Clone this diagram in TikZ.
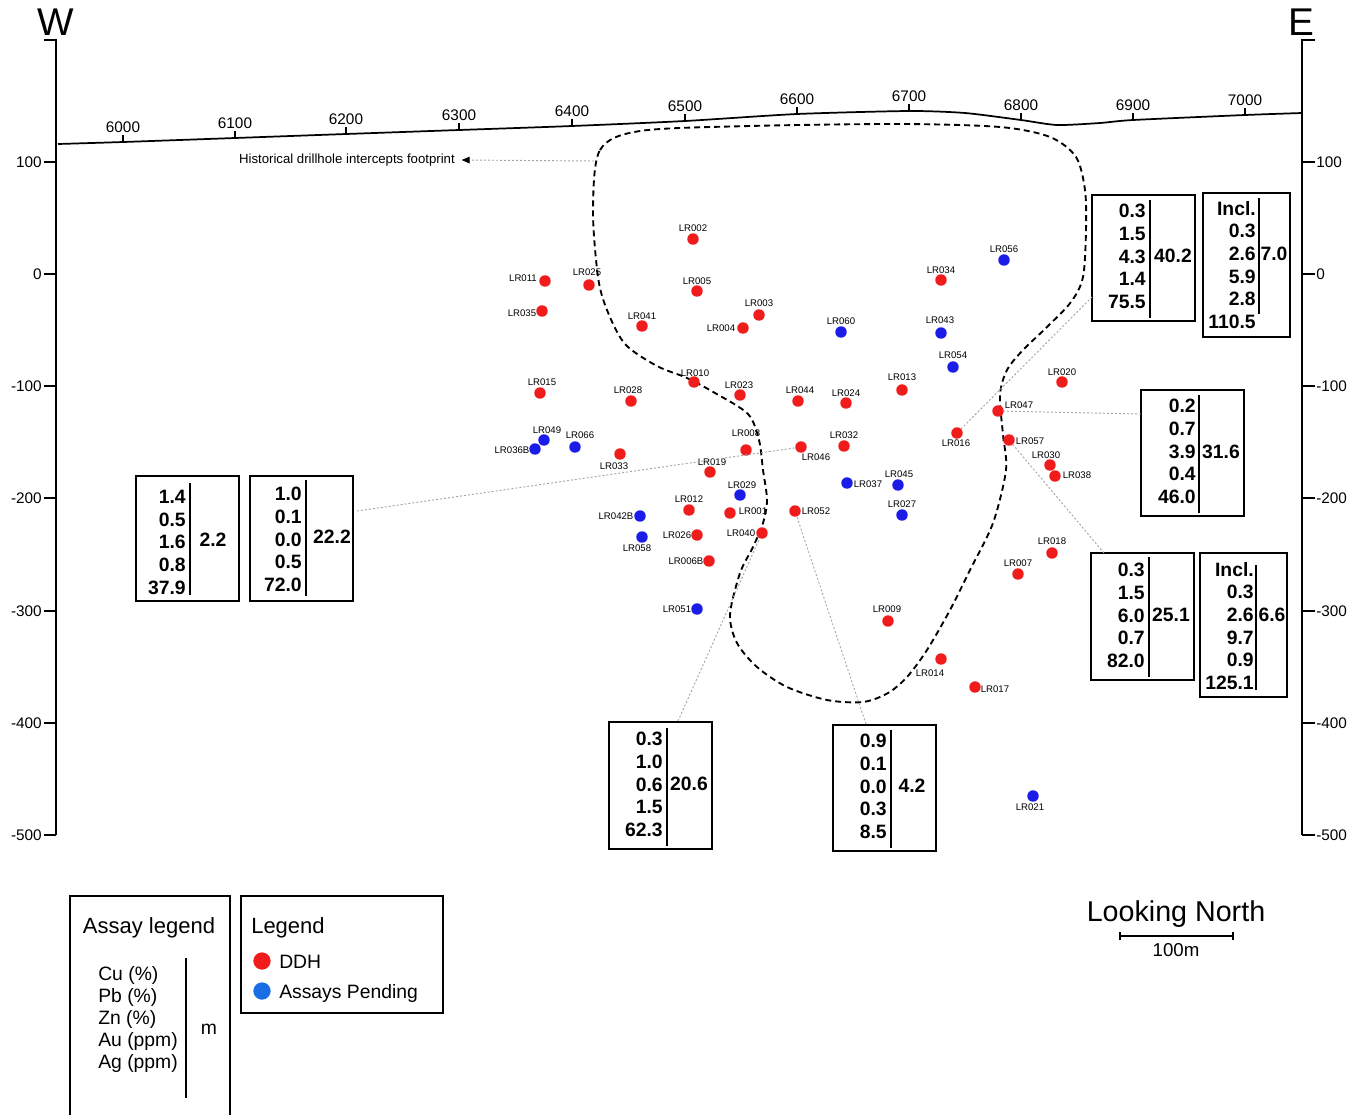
\documentclass[tikz,border=0pt]{standalone}
\usepackage{fontspec}
\setmainfont{Liberation Sans}
\usetikzlibrary{arrows.meta,fit}
\definecolor{ddh}{RGB}{240,28,28}
\definecolor{pend}{RGB}{28,28,232}
\definecolor{pendleg}{RGB}{25,110,230}
\definecolor{lead}{RGB}{165,165,165}
\begin{document}
\begin{tikzpicture}[x=0.75pt,y=-0.75pt,
  rd/.style={circle,fill=ddh,inner sep=0,minimum size=8.6pt},
  bd/.style={circle,fill=pend,inner sep=0,minimum size=8.6pt},
  lb/.style={font=\fontsize{7.2}{8}\selectfont,inner sep=0},
  leader/.style={draw=lead,dash pattern=on 1.5pt off 1.5pt,line width=0.7pt},
  bx/.style={draw,line width=1.3pt,inner sep=0},
  divl/.style={line width=1.1pt},
  num/.style={font=\fontsize{14.5}{17}\selectfont\bfseries,align=right,inner sep=0},
  val/.style={font=\fontsize{14.5}{17}\selectfont\bfseries,inner sep=0},
  axl/.style={font=\fontsize{11.5}{13}\selectfont,inner sep=0},
  axis/.style={line width=1.5pt},
  foot/.style={line width=1.4pt,dash pattern=on 4.5pt off 3pt},
  big/.style={font=\fontsize{29}{32}\selectfont,inner sep=0}]
\useasboundingbox (0,0) rectangle (1367,1115);
\fill[white] (0,0) rectangle (1367,1115);

% W / E
\node[big] (W) at (56,22) {W};
\node[big] (E) at (1301,22) {E};

% axes
\draw[axis] (44,40) -- (56,40) -- (56,835);
\draw[axis] (1315,40) -- (1302,40) -- (1302,835);
\foreach \v/\y in {100/162,0/274,-100/386,-200/498,-300/611,-400/723,-500/835}{
  \draw[line width=1.2pt] (44,\y) -- (56,\y);
  \node[axl,anchor=east] at (42,\y) {\v};
  \draw[line width=1.2pt] (1302,\y) -- (1315,\y);
  \node[axl,anchor=west] at (1316,\y) {\v};
}

% topography
\draw[line width=1.3pt] plot[smooth,tension=0.4] coordinates {(58,144) (123,142) (235,138) (346,134) (459,130) (572,126) (685,121) (797,114) (909,111) (965,113) (1021,120) (1057,125) (1100,123) (1133,120) (1245,115) (1302,113)};
\foreach \e/\x/\y in {6000/123/142,6100/235/138,6200/346/134,6300/459/130,6400/572/126,6500/685/121,6600/797/114,6700/909/111,6800/1021/120,6900/1133/120,7000/1245/115}{
  \draw[line width=1.1pt] (\x,\y) -- (\x,\y-7);
  \node[axl] at (\x,\y-15) {\e};
}

% footprint
\draw[foot] plot[smooth cycle,tension=0.5] coordinates {(593,210) (600,150) (640,131) (750,126) (900,124) (1000,127) (1050,137) (1076,157) (1085,190) (1086,230) (1083,277) (1071,302) (1047,327) (1023,350) (1007,370) (1000,395) (1003,435) (1006,470) (993,523) (970,570) (950,610) (927,650) (907,677) (888,693) (863,702) (827,700) (787,687) (757,667) (737,643) (730,615) (740,573) (753,547) (763,523) (767,500) (763,470) (759,440) (748,414) (715,393) (687,378) (657,366) (625,344) (607,310) (598,277)};

% historical label
\node[font=\fontsize{9.9}{11}\selectfont,inner sep=0,anchor=east] (hist) at (455,160) {Historical drillhole intercepts footprint};
\coordinate (fp) at (594,161);
\draw[leader,-{Triangle[width=5pt,length=6pt,color=black]}] (fp) -- ([xshift=5pt]hist.east);

% red drillholes
\foreach \n/\x/\y/\lx/\ly in {002/693/239/693/228, 011/545/281/523/278, 025/589/285/587/272, 005/697/291/697/281, 035/542/311/522/313, 041/642/326/642/316, 003/759/315/759/303, 004/743/328/721/328, 034/941/280/941/270, 015/540/393/542/382, 028/631/401/628/390, 010/694/382/695/373, 023/740/395/739/385, 044/798/401/800/390, 024/846/403/846/393, 013/902/390/902/377, 020/1062/382/1062/372, 047/998/411/1019/405, 016/957/433/956/443, 057/1009/440/1030/441, 030/1050/465/1046/455, 038/1055/476/1077/475, 033/620/454/614/466, 008/746/450/746/433, 046/801/447/816/457, 032/844/446/844/435, 019/710/472/712/462, 012/689/510/689/499, 001/730/513/753/511, 052/795/511/816/511, 026/697/535/677/535, 040/762/533/741/533, 006B/709/561/686/561, 009/888/621/887/609, 018/1052/553/1052/541, 007/1018/574/1018/563, 014/941/659/930/673, 017/975/687/995/689}{
  \node[rd] (d\n) at (\x,\y) {};
  \node[lb] (l\n) at (\lx,\ly) {LR\n};
}
% blue drillholes
\foreach \n/\x/\y/\lx/\ly in {056/1004/260/1004/249, 060/841/332/841/321, 043/941/333/940/320, 054/953/367/953/355, 049/544/440/547/430, 036B/535/449/512/450, 066/575/447/580/435, 029/740/495/742/485, 045/898/485/899/474, 037/847/483/868/484, 027/902/515/902/504, 042B/640/516/616/516, 058/642/537/637/548, 051/697/609/677/609, 021/1033/796/1030/807}{
  \node[bd] (d\n) at (\x,\y) {};
  \node[lb] (l\n) at (\lx,\ly) {LR\n};
}

% ---------- intercept boxes ----------
% A
\node[bx,fit={(136,476)(239,601)}] (bA) {};
\draw[divl] (190,483) -- (190,595);
\node[num,anchor=north east] at (186,490) {1.4\\0.5\\1.6\\0.8\\37.9};
\node[val] at (213,540) {2.2};
% B
\node[bx,fit={(250,476)(353,601)}] (bB) {};
\draw[divl] (306,480) -- (306,596);
\node[num,anchor=north east] at (302,487) {1.0\\0.1\\0.0\\0.5\\72.0};
\node[val] at (332,537) {22.2};
% C
\node[bx,fit={(1092,195)(1195,321)}] (bC) {};
\draw[divl] (1150,200) -- (1150,318);
\node[num,anchor=north east] at (1146,204) {0.3\\1.5\\4.3\\1.4\\75.5};
\node[val] at (1173,256) {40.2};
% D
\node[bx,fit={(1203,193)(1290,337)}] (bD) {};
\draw[divl] (1259,198) -- (1259,314);
\node[num,anchor=north east] at (1256,201) {Incl.\\0.3\\2.6\\5.9\\2.8\\110.5};
\node[val] at (1274,254) {7.0};
% E
\node[bx,fit={(1141,390)(1244,516)}] (bE) {};
\draw[divl] (1199,395) -- (1199,513);
\node[num,anchor=north east] at (1196,399) {0.2\\0.7\\3.9\\0.4\\46.0};
\node[val] at (1221,452) {31.6};
% F
\node[bx,fit={(1091,553)(1194,680)}] (bF) {};
\draw[divl] (1149,557) -- (1149,677);
\node[num,anchor=north east] at (1145,563) {0.3\\1.5\\6.0\\0.7\\82.0};
\node[val] at (1171,615) {25.1};
% G
\node[bx,fit={(1200,553)(1287,697)}] (bG) {};
\draw[divl] (1256,565) -- (1256,690);
\node[num,anchor=north east] at (1254,562) {Incl.\\0.3\\2.6\\9.7\\0.9\\125.1};
\node[val] at (1272,615) {6.6};
% H
\node[bx,fit={(609,722)(712,849)}] (bH) {};
\draw[divl] (667,728) -- (667,846);
\node[num,anchor=north east] at (663,732) {0.3\\1.0\\0.6\\1.5\\62.3};
\node[val] at (689,784) {20.6};
% I
\node[bx,fit={(833,725)(936,851)}] (bI) {};
\draw[divl] (891,730) -- (891,848);
\node[num,anchor=north east] at (887,734) {0.9\\0.1\\0.0\\0.3\\8.5};
\node[val] at (912,786) {4.2};

% leaders
\coordinate (cB) at (357,511);
\coordinate (cC) at (1092,297);
\coordinate (cE) at (1141,414);
\coordinate (cF) at (1104,553);
\coordinate (cH) at (678,721);
\coordinate (cI) at (866,724);
\draw[leader] (cB) -- (d046);
\draw[leader] (cC) -- (d016);
\draw[leader] (cE) -- (d047);
\draw[leader] (cF) -- (d057);
\draw[leader] (cH) -- (d040);
\draw[leader] (cI) -- (d052);

% ---------- legends ----------
\draw[line width=1.2pt] (70,1115) -- (70,896) -- (230,896) -- (230,1115);
\node[font=\fontsize{16.5}{19}\selectfont,inner sep=0] (asl) at (149,928) {Assay legend};
\node[font=\fontsize{14.5}{16.5}\selectfont,align=left,inner sep=0,anchor=north west] (asi) at (98,966) {Cu (\%)\\Pb (\%)\\Zn (\%)\\Au (ppm)\\Ag (ppm)};
\draw[line width=1.1pt] (186,958) -- (186,1098);
\node[font=\fontsize{14.5}{16.5}\selectfont,inner sep=0] (asm) at (209,1029) {m};

\node[draw,line width=1.2pt,inner sep=0,fit={(241,896)(443,1013)}] (leg) {};
\node[font=\fontsize{16.5}{19}\selectfont,inner sep=0,anchor=west] (legt) at (251,928) {Legend};
\node[circle,fill=ddh,inner sep=0,minimum size=13pt] (ldd) at (262,961) {};
\node[font=\fontsize{14.5}{16.5}\selectfont,inner sep=0,anchor=west] (lddt) at (279,962) {DDH};
\node[circle,fill=pendleg,inner sep=0,minimum size=13pt] (lap) at (262,991) {};
\node[font=\fontsize{14.5}{16.5}\selectfont,inner sep=0,anchor=west] (lapt) at (279,993) {Assays Pending};

% looking north / scale
\node[font=\fontsize{21.5}{24}\selectfont,inner sep=0] (ln) at (1176,914) {Looking North};
\draw[line width=1.1pt] (1120,936) -- (1233,936);
\draw[line width=1.1pt] (1120,932) -- (1120,940);
\draw[line width=1.1pt] (1233,932) -- (1233,940);
\node[font=\fontsize{14}{16}\selectfont,inner sep=0] (sc) at (1176,950) {100m};
\end{tikzpicture}
\end{document}
